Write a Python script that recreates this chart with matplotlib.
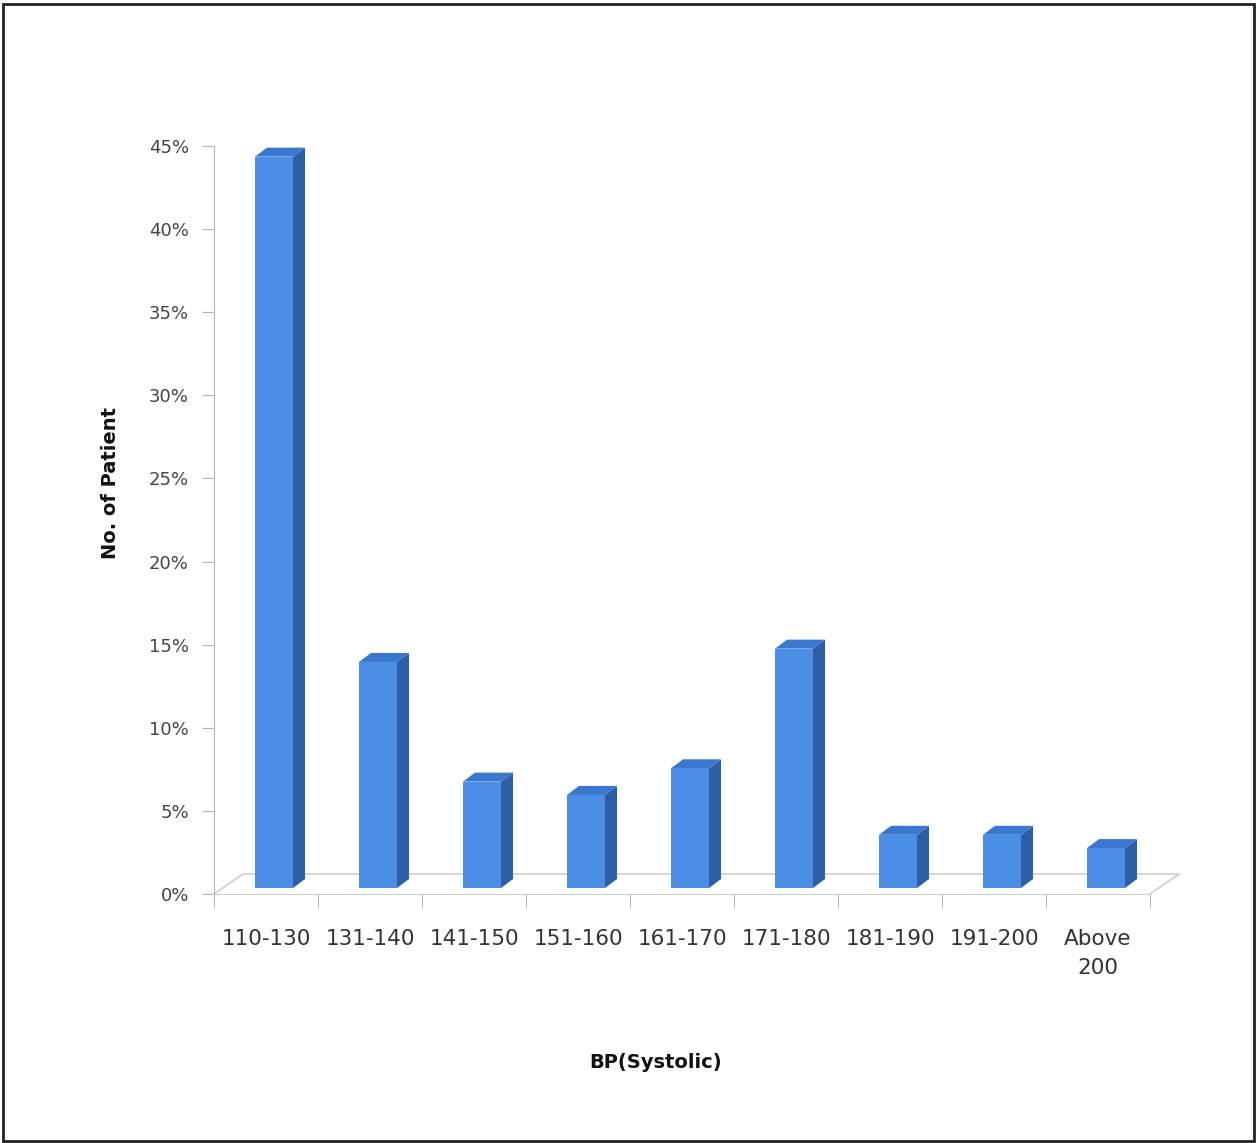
import matplotlib.pyplot as plt
from matplotlib.patches import Polygon, Rectangle
from matplotlib.ticker import FixedLocator, PercentFormatter

# data
categories = ['110-130', '131-140', '141-150', '151-160', '161-170',
              '171-180', '181-190', '191-200', 'Above\n200']
values = [44.0, 13.6, 6.4, 5.6, 7.2, 14.4, 3.2, 3.2, 2.4]

W, H = 1257, 1143
fig = plt.figure(figsize=(W / 100, H / 100), dpi=100)
fig.patch.set_facecolor('white')

# axes box in pixels: x 214..1150, y(0%)=894, y(45%)=146
left, right, top, bot = 214, 1150, 146, 894
ax = fig.add_axes([left / W, 1 - bot / H, (right - left) / W, (bot - top) / H])
n = len(categories)
ax.set_xlim(-0.5, n - 0.5)
ax.set_ylim(0, 45)

# pixel -> data units
px = n / (right - left)
py = 45 / (bot - top)

gray = '#b4b4b4'
for s in ['top', 'right']:
    ax.spines[s].set_visible(False)
ax.spines['left'].set_color(gray)
ax.spines['bottom'].set_color('#cfcfcf')
ax.spines['left'].set_bounds(-0.5, 45)

# floor (3d look)
fdx, fdy = 29 * px, 20 * py
fl = dict(color='#cfcfcf', lw=1.2, clip_on=False)
ax.plot([-0.5 + fdx, n - 0.5 + fdx], [fdy, fdy], **fl)
ax.plot([-0.5, -0.5 + fdx], [0, fdy], **fl)
ax.plot([n - 0.5, n - 0.5 + fdx], [0, fdy], **fl)

# bars
front_c, side_c, top_c = '#4B8EE6', '#2D5FA9', '#3A77CF'
bw = 38 * px
shift = 8 * px
base = 6 * py
ddx, ddy = 12 * px, 9 * py
xs = [i + shift for i in range(n)]
ax.bar(xs, values, width=bw, bottom=base, color=front_c, zorder=3)
for x, v in zip(xs, values):
    xl, xr = x - bw / 2, x + bw / 2
    yt = base + v
    side = Polygon([(xr, base), (xr, yt), (xr + ddx, yt + ddy), (xr + ddx, base + ddy)],
                   closed=True, facecolor=side_c, edgecolor='none', zorder=2, clip_on=False)
    topf = Polygon([(xl, yt), (xr, yt), (xr + ddx, yt + ddy), (xl + ddx, yt + ddy)],
                   closed=True, facecolor=top_c, edgecolor='none', zorder=2, clip_on=False)
    ax.add_patch(side)
    ax.add_patch(topf)

# ticks
ax.set_yticks(range(0, 50, 5))
ax.yaxis.set_major_formatter(PercentFormatter(decimals=0))
ax.tick_params(axis='y', direction='out', length=9, color=gray,
               labelsize=13, labelcolor='#444444', pad=9)
ax.set_xticks(range(n))
ax.set_xticklabels(categories)
ax.tick_params(axis='x', which='major', length=0, labelsize=15.5,
               labelcolor='#333333', pad=25)
ax.xaxis.set_minor_locator(FixedLocator([i - 0.5 for i in range(n + 1)]))
ax.tick_params(axis='x', which='minor', direction='out', length=9, color='#a8a8a8')
for lbl in ax.get_xticklabels():
    lbl.set_verticalalignment('top')
    lbl.set_linespacing(1.55)

# axis titles
fig.text(110 / W, 1 - 483 / H, 'No. of Patient', rotation=90, ha='center', va='center',
         fontsize=14, fontweight='bold', color='#111111')
fig.text(656 / W, 1 - 1063 / H, 'BP(Systolic)', ha='center', va='center',
         fontsize=14, fontweight='bold', color='#111111')

# frame around the chart
fig.patches.append(Rectangle((3 / W, 2 / H), (W - 6) / W, (H - 6) / H, transform=fig.transFigure,
                             fill=False, edgecolor='#222222', lw=2))

fig.savefig('out.png', dpi=100)
